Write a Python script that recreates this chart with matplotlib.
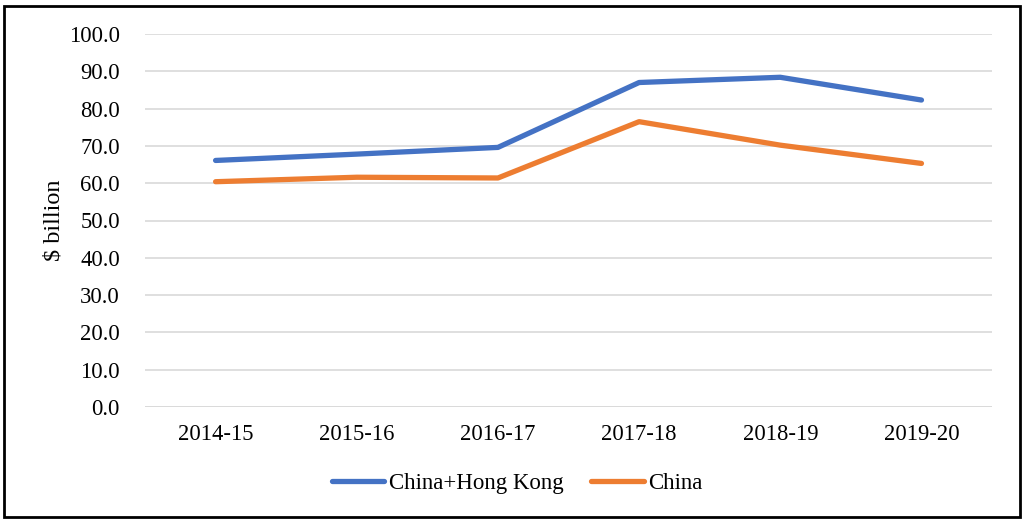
import numpy as np
import matplotlib.pyplot as plt
from matplotlib.patches import Rectangle

plt.rcParams['font.family'] = ['Liberation Serif', 'DejaVu Serif']

years = ["2014-15", "2015-16", "2016-17", "2017-18", "2018-19", "2019-20"]
china_hk = [66.1, 67.8, 69.6, 87.0, 88.4, 82.3]
china = [60.4, 61.6, 61.4, 76.5, 70.2, 65.3]

fig = plt.figure(figsize=(10.24, 5.25), dpi=100)
ax = fig.add_axes([0.1416, 0.2248, 0.8272, 0.7104])

x = np.arange(len(years))
ax.plot(x, china_hk, color="#4472C4", lw=3.8, solid_capstyle="round", label="China+Hong Kong")
ax.plot(x, china, color="#ED7D31", lw=3.8, solid_capstyle="round", label="China")

ax.set_xlim(-0.5, len(years) - 0.5)
ax.set_ylim(0, 100)
ax.set_yticks(np.arange(0, 101, 10))
ax.set_yticklabels(["%.1f" % v for v in np.arange(0, 101, 10)])
ax.set_xticks(x)
ax.set_xticklabels(years)
ax.yaxis.grid(True, color="#D9D9D9", lw=1.2)
ax.set_axisbelow(True)
for s in ax.spines.values():
    s.set_visible(False)
ax.axhline(0, color="#D9D9D9", lw=1.2, zorder=0)
ax.tick_params(axis="both", length=0, labelsize=16.3, colors="#000000")
ax.tick_params(axis="y", pad=18)
ax.tick_params(axis="x", pad=12)
ax.set_ylabel("$ billion", fontsize=17.5, labelpad=3)

leg = fig.legend(loc="center", bbox_to_anchor=(0.505, 0.08), ncol=2, frameon=False,
                 fontsize=16.5, handlelength=2.3, handletextpad=0.2, columnspacing=1.2)

fig.patches.append(Rectangle((0.004, 0.015), 0.992, 0.974, transform=fig.transFigure,
                             fill=False, edgecolor="black", lw=2))

fig.savefig("out.png", dpi=100)
